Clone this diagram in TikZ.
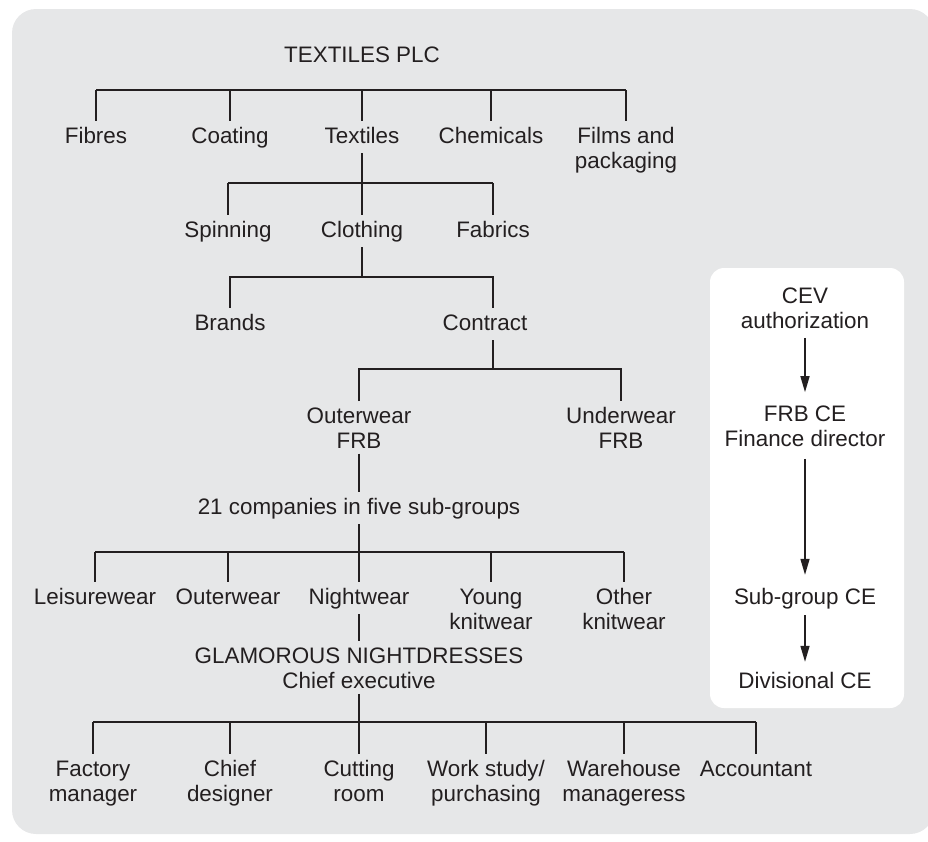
\documentclass[tikz,border=0pt]{standalone}
\usepackage{fontspec}
\setmainfont{Liberation Sans}
\usetikzlibrary{arrows.meta}
\definecolor{panelgray}{RGB}{230,231,232}
\definecolor{ink}{RGB}{35,31,32}
\begin{document}
\begin{tikzpicture}[x=1pt,y=-1pt,
  every node/.style={font=\fontsize{22.4}{25.5}\selectfont, text=ink, inner sep=0pt},
  unit/.style={anchor=base, text height=16pt, text depth=5pt},
  % multi-line labels: placed by the baseline of their last line
  unittwo/.style={anchor=base, align=center},
  link/.style={draw=ink, line width=1.5pt},
  flow/.style={link, -{Triangle[length=16pt,width=9pt]}}]

\useasboundingbox (0,0) rectangle (928,841);

% grey backdrop and the white side panel
\begin{scope}
  \clip (0,0) rectangle (928,841);
  \fill[panelgray, rounded corners=24pt] (12,9) rectangle (934,834);
\end{scope}
\fill[white, rounded corners=14pt] (710,268) rectangle (904,708);

% heights of the horizontal bars
\coordinate (barA) at (0,90);
\coordinate (barB) at (0,183);
\coordinate (barC) at (0,277);
\coordinate (barD) at (0,369);
\coordinate (barE) at (0,552);
\coordinate (barF) at (0,722);

% group level
\node[unit] (plc) at (362,62) {TEXTILES PLC};
\node[unit] (fibres) at (96,143) {Fibres};
\node[unit] (coating) at (230,143) {Coating};
\node[unit] (textiles) at (362,143) {Textiles};
\node[unit] (chemicals) at (491,143) {Chemicals};
\node[unittwo] (films) at (626,168.5) {Films and\\packaging};

% textiles division
\node[unit] (spinning) at (228,237) {Spinning};
\node[unit] (clothing) at (362,237) {Clothing};
\node[unit] (fabrics) at (493,237) {Fabrics};

\node[unit] (brands) at (230,330) {Brands};
\node[unit] (contract) at (485,330) {Contract};

\node[unittwo] (outerfrb) at (359,448.5) {Outerwear\\FRB};
\node[unittwo] (underfrb) at (621,448.5) {Underwear\\FRB};

\node[unit] (companies) at (359,514) {21 companies in five sub-groups};

\node[unit] (leisure) at (95,604) {Leisurewear};
\node[unit] (outerwear) at (228,604) {Outerwear};
\node[unit] (nightwear) at (359,604) {Nightwear};
\node[unittwo] (young) at (491,629.5) {Young\\knitwear};
\node[unittwo] (other) at (624,629.5) {Other\\knitwear};

\node[unittwo] (glam) at (359,688.5) {GLAMOROUS NIGHTDRESSES\\Chief executive};

\node[unittwo] (factory) at (93,801.5) {Factory\\manager};
\node[unittwo] (designer) at (230,801.5) {Chief\\designer};
\node[unittwo] (cutting) at (359,801.5) {Cutting\\room};
\node[unittwo] (workstudy) at (486,801.5) {Work study/\\purchasing};
\node[unittwo] (warehouse) at (624,801.5) {Warehouse\\manageress};
\node[unit] (accountant) at (756,776) {Accountant};

% authorization chain
\node[unittwo] (cev) at (805,328.5) {CEV\\authorization};
\node[unittwo] (frb) at (805,446.5) {FRB CE\\Finance director};
\node[unit] (subgroup) at (805,604) {Sub-group CE};
\node[unit] (divisional) at (805,688) {Divisional CE};

% tree: group to divisions
\draw[link] (fibres |- barA) -- (films |- barA);
\foreach \n in {fibres,coating,textiles,chemicals,films}
  \draw[link] (\n |- barA) -- ([yshift=6pt]\n.north);

% textiles to its businesses
\draw[link] ([yshift=-5pt]textiles.south) -- ([yshift=6pt]clothing.north);
\draw[link] (spinning |- barB) -- (fabrics |- barB);
\foreach \n in {spinning,fabrics}
  \draw[link] (\n |- barB) -- ([yshift=6pt]\n.north);

% clothing
\draw[link] ([yshift=-5pt]clothing.south) -- (clothing |- barC);
\draw[link] ([yshift=6pt]brands.north) |- ([xshift=8pt]contract.north |- barC) -- ([xshift=8pt,yshift=6pt]contract.north);

% contract
\draw[link] ([xshift=8pt,yshift=-5pt]contract.south) -- ([xshift=8pt]contract.south |- barD);
\draw[link] ([yshift=6pt]outerfrb.north) |- (underfrb |- barD) -- ([yshift=6pt]underfrb.north);

% outerwear FRB to its companies
\draw[link] ([yshift=-5pt]outerfrb.south) -- ([yshift=6pt]companies.north);
\draw[link] ([yshift=-5pt]companies.south) -- (nightwear |- barE);
\draw[link] (leisure |- barE) -- (other |- barE);
\foreach \n in {leisure,outerwear,nightwear,young,other}
  \draw[link] (\n |- barE) -- ([yshift=6pt]\n.north);

% nightwear company
\draw[link] ([yshift=-5pt]nightwear.south) -- ([yshift=6pt]glam.north);
\draw[link] ([yshift=-5pt]glam.south) -- (cutting |- barF);
\draw[link] (factory |- barF) -- (accountant |- barF);
\foreach \n in {factory,designer,cutting,workstudy,warehouse,accountant}
  \draw[link] (\n |- barF) -- ([yshift=6pt]\n.north);

% authorization arrows
\draw[flow, shorten <=9pt, shorten >=13pt] (cev.south) -- (frb.north);
\draw[flow, shorten <=12pt, shorten >=13pt] (frb.south) -- (subgroup.north);
\draw[flow, shorten <=6pt, shorten >=10pt] (subgroup.south) -- (divisional.north);
\end{tikzpicture}
\end{document}
